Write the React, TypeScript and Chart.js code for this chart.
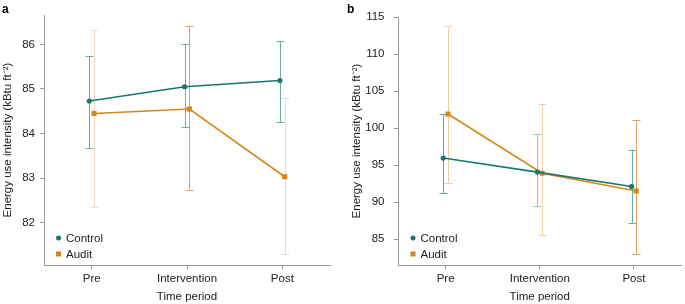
import React, { useEffect, useRef } from "react";
import { Chart, registerables } from "chart.js";

Chart.register(...registerables);

const CATEGORIES = ["Pre", "Intervention", "Post"];
const SERIES_NAMES = ["Control", "Audit"];

// Panel a
const A_CONTROL = [84.73, 85.05, 85.19];
const A_CONTROL_LOW = [83.67, 84.14, 84.26];
const A_CONTROL_HIGH = [85.73, 86.02, 86.07];
const A_AUDIT = [84.45, 84.55, 83.03];
const A_AUDIT_LOW = [82.35, 82.74, 81.29];
const A_AUDIT_HIGH = [86.32, 86.42, 84.8];
const A_Y_TICKS = [82, 83, 84, 85, 86];

// Panel b
const B_CONTROL = [95.95, 94.05, 92.1];
const B_CONTROL_LOW = [91.2, 89.5, 87.2];
const B_CONTROL_HIGH = [101.9, 99.2, 97.1];
const B_AUDIT = [101.9, 93.9, 91.5];
const B_AUDIT_LOW = [92.6, 85.5, 83.0];
const B_AUDIT_HIGH = [113.8, 103.3, 101.1];
const B_Y_TICKS = [85, 90, 95, 100, 105, 110, 115];

const Y_TITLE = "Energy use intensity (kBtu ft\u207B\u00B2)";
const X_TITLE = "Time period";

const CONTROL_COLOR = "#17796a";
const AUDIT_COLOR = "#d4871d";
const A_CONTROL_ERR_COLORS = ["#6aaea2", "#6aaea2", "#6aaea2"];
const A_AUDIT_ERR_COLORS = ["#f1dcc0", "#d9a35c", "#f1dcc0"];
const B_CONTROL_ERR_COLORS = ["#5da89a", "#8fc2b8", "#6aaea2"];
const B_AUDIT_ERR_COLORS = ["#eecfa4", "#efd3ab", "#dba75e"];

const FONT = "'Liberation Sans', Arial, Helvetica, sans-serif";
const DODGE = 0.025;

type PanelDef = {
  letter: string;
  control: number[];
  controlLow: number[];
  controlHigh: number[];
  audit: number[];
  auditLow: number[];
  auditHigh: number[];
  yTicks: number[];
  yMin: number;
  yMax: number;
  controlErrColors: string[];
  auditErrColors: string[];
  yAxisWidth: number;
  padTop: number;
  padRight: number;
  yTitlePad: number;
  yTickPad: number;
  yTickLen: number;
};

const PANEL_A: PanelDef = {
  letter: "a",
  control: A_CONTROL,
  controlLow: A_CONTROL_LOW,
  controlHigh: A_CONTROL_HIGH,
  audit: A_AUDIT,
  auditLow: A_AUDIT_LOW,
  auditHigh: A_AUDIT_HIGH,
  yTicks: A_Y_TICKS,
  yMin: 81.05,
  yMax: 86.66,
  controlErrColors: A_CONTROL_ERR_COLORS,
  auditErrColors: A_AUDIT_ERR_COLORS,
  yAxisWidth: 44,
  padTop: 15,
  padRight: 10,
  yTitlePad: 0.5,
  yTickPad: 5,
  yTickLen: 4,
};

const PANEL_B: PanelDef = {
  letter: "b",
  control: B_CONTROL,
  controlLow: B_CONTROL_LOW,
  controlHigh: B_CONTROL_HIGH,
  audit: B_AUDIT,
  auditLow: B_AUDIT_LOW,
  auditHigh: B_AUDIT_HIGH,
  yTicks: B_Y_TICKS,
  yMin: 81.5,
  yMax: 115,
  controlErrColors: B_CONTROL_ERR_COLORS,
  auditErrColors: B_AUDIT_ERR_COLORS,
  yAxisWidth: 58.5,
  padTop: 17,
  padRight: 2,
  yTitlePad: 10,
  yTickPad: 9,
  yTickLen: 5,
};

function makeChart(canvas: HTMLCanvasElement, p: PanelDef) {
  const toPts = (vals: number[], off: number) =>
    vals.map((v, i) => ({ x: i + off, y: v }));

  const errorPlugin = {
    id: "errorbars",
    beforeDatasetsDraw(chart: any) {
      const ctx = chart.ctx;
      const xs = chart.scales.x;
      const ys = chart.scales.y;
      const groups = [
        { vals: p.control, lo: p.controlLow, hi: p.controlHigh, off: -DODGE, colors: p.controlErrColors },
        { vals: p.audit, lo: p.auditLow, hi: p.auditHigh, off: DODGE, colors: p.auditErrColors },
      ];
      ctx.save();
      ctx.lineWidth = 1;
      for (const g of groups) {
        g.vals.forEach((_, i) => {
          const x = Math.round(xs.getPixelForValue(i + g.off)) + 0.5;
          const y1 = ys.getPixelForValue(g.lo[i]);
          const y2 = ys.getPixelForValue(g.hi[i]);
          ctx.strokeStyle = g.colors[i];
          ctx.beginPath();
          ctx.moveTo(x, y1);
          ctx.lineTo(x, y2);
          ctx.moveTo(x - 4, Math.round(y1) + 0.5);
          ctx.lineTo(x + 4, Math.round(y1) + 0.5);
          ctx.moveTo(x - 4, Math.round(y2) + 0.5);
          ctx.lineTo(x + 4, Math.round(y2) + 0.5);
          ctx.stroke();
        });
      }
      ctx.restore();
    },
    afterDraw(chart: any) {
      const ctx = chart.ctx;
      const area = chart.chartArea;
      ctx.save();
      // panel letter
      ctx.fillStyle = "#000";
      ctx.font = `bold 12px ${FONT}`;
      ctx.textBaseline = "alphabetic";
      ctx.textAlign = "left";
      ctx.fillText(p.letter, p.letter === "a" ? 2 : 7, 13);
      // legend
      const lx = area.left + 14.5;
      const rows = [
        { y: area.bottom - 27, name: SERIES_NAMES[0], color: CONTROL_COLOR, shape: "circle" },
        { y: area.bottom - 11, name: SERIES_NAMES[1], color: AUDIT_COLOR, shape: "rect" },
      ];
      ctx.font = `11.5px ${FONT}`;
      ctx.textBaseline = "middle";
      for (const r of rows) {
        ctx.fillStyle = r.color;
        if (r.shape === "circle") {
          ctx.beginPath();
          ctx.arc(lx, r.y, 2.5, 0, Math.PI * 2);
          ctx.fill();
        } else {
          ctx.fillRect(lx - 2.5, r.y - 2.5, 5, 5);
        }
        ctx.fillStyle = "#222";
        ctx.fillText(r.name, lx + 7.5, r.y + 0.5);
      }
      ctx.restore();
    },
  };

  return new Chart(canvas, {
    type: "line",
    data: {
      datasets: [
        {
          label: SERIES_NAMES[0],
          data: toPts(p.control, -DODGE),
          borderColor: CONTROL_COLOR,
          backgroundColor: CONTROL_COLOR,
          borderWidth: 1.6,
          pointStyle: "circle",
          pointRadius: 2.6,
          pointBorderWidth: 0,
          tension: 0,
        },
        {
          label: SERIES_NAMES[1],
          data: toPts(p.audit, DODGE),
          borderColor: AUDIT_COLOR,
          backgroundColor: AUDIT_COLOR,
          borderWidth: 1.6,
          pointStyle: "rect",
          pointRadius: 3.6,
          pointBorderWidth: 0,
          tension: 0,
        },
      ],
    },
    options: {
      animation: false,
      responsive: false,
      maintainAspectRatio: false,
      events: [],
      layout: { padding: { top: p.padTop, right: p.padRight, left: 0, bottom: 0 } },
      plugins: {
        legend: { display: false },
        tooltip: { enabled: false },
      },
      scales: {
        x: {
          type: "linear",
          min: -0.5,
          max: 2.5,
          afterBuildTicks: (scale: any) => {
            scale.ticks = CATEGORIES.map((_, i) => ({ value: i }));
          },
          afterFit: (scale: any) => {
            scale.height = 39;
          },
          ticks: {
            callback: (v: any) => CATEGORIES[Math.round(Number(v))] ?? "",
            color: "#222",
            font: { family: FONT, size: 11.5 },
            padding: 3,
            maxRotation: 0,
            autoSkip: false,
          },
          grid: {
            drawOnChartArea: false,
            drawTicks: true,
            tickLength: 4,
            color: "#9a9a9a",
          },
          border: { display: true, color: "#9a9a9a", width: 1 },
          title: {
            display: true,
            text: X_TITLE,
            color: "#222",
            font: { family: FONT, size: 11.5 },
            padding: { top: 0, bottom: 0 },
          },
        },
        y: {
          type: "linear",
          min: p.yMin,
          max: p.yMax,
          afterBuildTicks: (scale: any) => {
            scale.ticks = p.yTicks.map((v) => ({ value: v }));
          },
          afterFit: (scale: any) => {
            scale.width = p.yAxisWidth;
          },
          ticks: {
            color: "#222",
            font: { family: FONT, size: 11.5 },
            padding: p.yTickPad,
          },
          grid: {
            drawOnChartArea: false,
            drawTicks: true,
            tickLength: p.yTickLen,
            color: "#9a9a9a",
          },
          border: { display: true, color: "#9a9a9a", width: 1 },
          title: {
            display: true,
            text: Y_TITLE,
            color: "#222",
            font: { family: FONT, size: 11.5 },
            padding: { top: p.yTitlePad, bottom: 0 },
          },
        },
      },
    },
    plugins: [errorPlugin],
  } as any);
}

function Panel({ def, left, width }: { def: PanelDef; left: number; width: number }) {
  const ref = useRef<HTMLCanvasElement>(null);
  useEffect(() => {
    if (!ref.current) return;
    const chart = makeChart(ref.current, def);
    return () => chart.destroy();
  }, [def]);
  return (
    <div style={{ position: "absolute", left, top: 0, width, height: 304 }}>
      <canvas ref={ref} width={width} height={304} style={{ display: "block" }} />
    </div>
  );
}

export default function App() {
  return (
    <div
      style={{
        position: "fixed",
        left: 0,
        top: 0,
        width: 685,
        height: 304,
        background: "#fff",
        overflow: "hidden",
      }}
    >
      <Panel def={PANEL_A} left={0} width={340} />
      <Panel def={PANEL_B} left={340} width={345} />
    </div>
  );
}
